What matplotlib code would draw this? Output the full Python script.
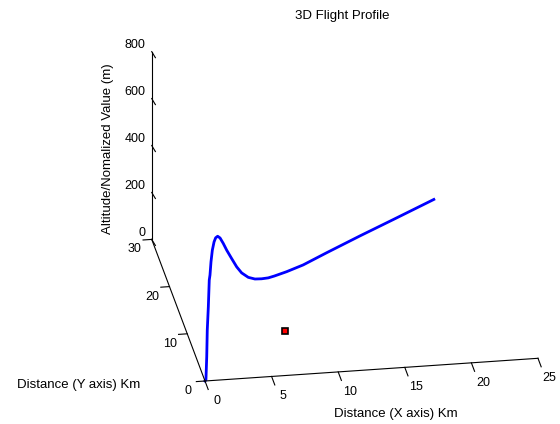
import numpy as np
import matplotlib
matplotlib.use('Agg')
from matplotlib import pyplot as plt
from mpl_toolkits.mplot3d import proj3d

plt.rcParams['font.family'] = ['Liberation Sans', 'DejaVu Sans']

# flight path (km, km, m)
dist_x = [0, 0.07, 0.13, 0.17, 0.25, 0.32, 0.375, 0.45, 0.55, 0.68, 0.80, 0.95,
          1.13, 1.37, 1.63, 2.0, 2.38, 2.75, 3.25, 3.75, 4.25, 4.75, 5.2,
          6.13, 7.37, 9.13, 11.63, 14.13, 17.18]
dist_y = [0] * len(dist_x)
alt = [0, 4, 103, 216, 315, 429, 450, 506, 555, 590, 607, 613,
       605, 581, 551, 514, 477, 450, 429, 420, 419, 421, 427,
       442, 466, 511, 573, 633, 707]

# single marked point
tgt_x = [7.26]
tgt_y = [9.25]
tgt_z = [0]

xticks = [0, 5, 10, 15, 20, 25]
yticks = [0, 10, 20, 30]
zticks = [0, 200, 400, 600, 800]

fig = plt.figure(figsize=(5.6, 4.24), dpi=100)
ax = fig.add_axes([0, 0, 1, 1], projection='3d', proj_type='ortho')
ax.view_init(elev=25.2, azim=-99.1)
ax.set_box_aspect((1.625, 1.623, 1))
ax.set_xlim(0, 25)
ax.set_ylim(0, 30)
ax.set_zlim(0, 800)
ax.set_axis_off()

ax.plot(dist_x, dist_y, alt, color='b', lw=2)
ax.plot(tgt_x, tgt_y, tgt_z, 's', ms=5, mfc='r', mec='k', mew=1.2)

# matlab style axis lines and ticks
k = dict(color='k', lw=0.8)
ax.plot([0, 25], [0, 0], [0, 0], **k)
ax.plot([0, 0], [0, 30], [0, 0], **k)
ax.plot([0, 0], [30, 30], [0, 800], **k)
for t in xticks:
    ax.plot([t, t], [0, -1.8], [0, 0], **k)
for t in yticks:
    ax.plot([0, -0.65], [t, t], [0, 0], **k)
for t in zticks:
    ax.plot([0, 0.1], [30, 28.7], [t, t], **k)

W, H = 560, 424
fig.text(342 / W, 1 - 16 / H, '3D Flight Profile', ha='center', va='center', fontsize=9.5)
fig.text(396 / W, 1 - 414 / H, 'Distance (X axis) Km', ha='center', va='center', fontsize=9.5)
fig.text(79 / W, 1 - 385 / H, 'Distance (Y axis) Km', ha='center', va='center', fontsize=9.5)
fig.text(108 / W, 1 - 149 / H, 'Altitude/Nomalized Value (m)', rotation=90,
         ha='center', va='center', fontsize=9.5)

def to_px(x, y, z):
    xs, ys, _ = proj3d.proj_transform(x, y, z, ax.M)
    return np.array(ax.transData.transform((xs, ys)))

# place the 3d box so the origin and x axis end land where they are in the picture
fig.canvas.draw()
bb = ax.get_position()
c0 = np.array([(bb.x0 + bb.x1) / 2 * W, (bb.y0 + bb.y1) / 2 * H])
s0 = bb.width * W
vo = (to_px(0, 0, 0) - c0) / s0
ve = (to_px(25, 0, 0) - c0) / s0
t_o = np.array([205, H - 381])
t_e = np.array([538, H - 358.5])
s = np.linalg.norm(t_e - t_o) / np.linalg.norm(ve - vo)
c = t_o - s * vo
ax.set_position([(c[0] - s / 2) / W, (c[1] - s / 2) / H, s / W, s / H])
fig.canvas.draw()

# tick labels as flat text at the projected tick spots
for t in xticks:
    p = to_px(t + 0.3, -4.3, 0)
    fig.text(p[0] / W, p[1] / H, str(t), ha='center', va='center', fontsize=9)
for t in yticks:
    p = to_px(-1.3, t, -38)
    fig.text(p[0] / W, p[1] / H, str(t), ha='center', va='center', fontsize=9)
for t in zticks:
    p = to_px(-0.45, 30, t + 28)
    fig.text(p[0] / W, p[1] / H, str(t), ha='right', va='center', fontsize=9)

fig.savefig('out.png', dpi=100)
